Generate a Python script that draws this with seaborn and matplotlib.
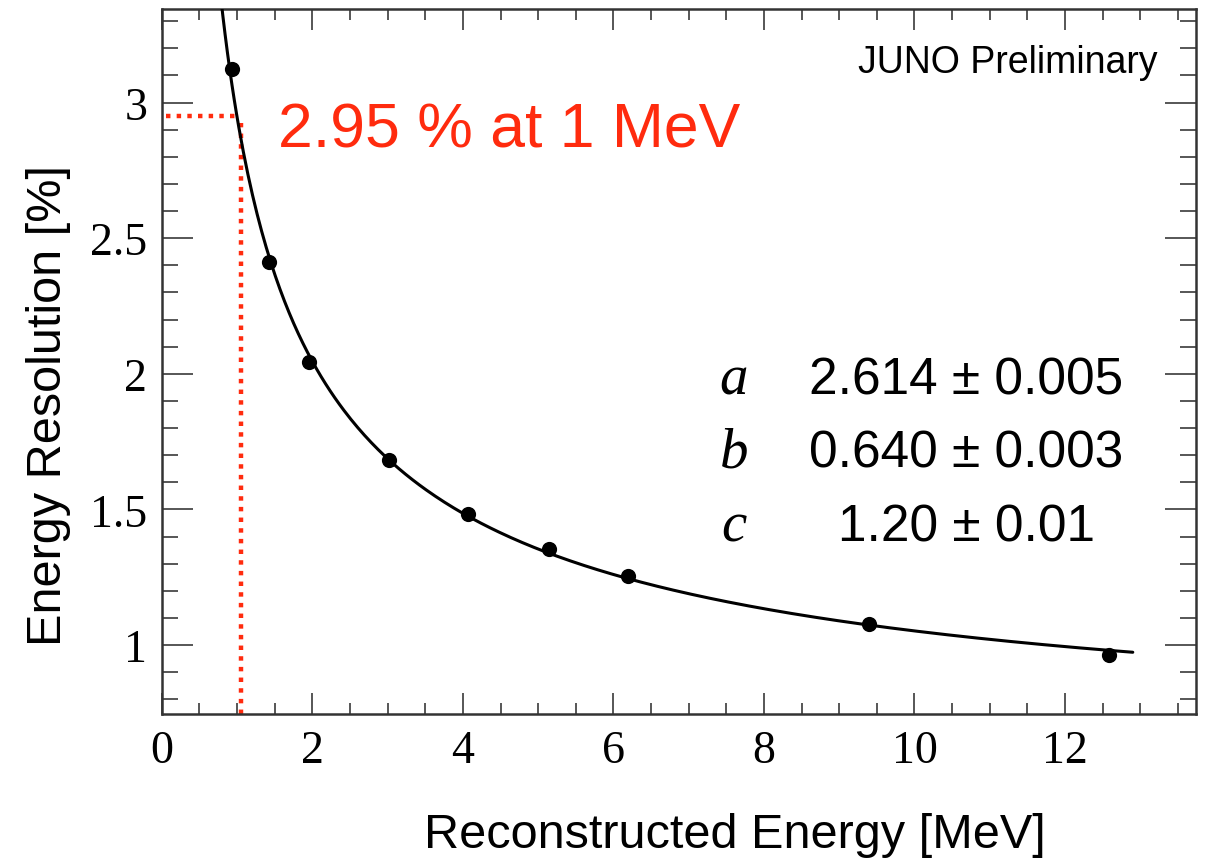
import numpy as np
import pandas as pd
import matplotlib
matplotlib.use("Agg")
import matplotlib.pyplot as plt
from matplotlib.ticker import MultipleLocator
import seaborn as sns

# ---------------- data ----------------
energy = [0.93, 1.43, 1.96, 3.02, 4.07, 5.14, 6.20, 9.39, 12.58]        # MeV
resolution = [3.123, 2.414, 2.045, 1.683, 1.485, 1.356, 1.255, 1.077, 0.963]  # %

fit_a = 2.614
fit_b = 0.640
fit_c = 1.20
fit_range = [0.78, 12.9]

param_names = ["a", "b", "c"]
param_texts = ["2.614 \u00b1 0.005", "0.640 \u00b1 0.003", "1.20 \u00b1 0.01"]

ref_energy_line = 1.05
ref_energy_hline_end = 1.0
ref_resolution = 2.95
annotation = "2.95 % at 1 MeV"
watermark = "JUNO Preliminary"

x_ticks = [0, 2, 4, 6, 8, 10, 12]
x_tick_labels = ["0", "2", "4", "6", "8", "10", "12"]
y_ticks = [1, 1.5, 2, 2.5, 3]
y_tick_labels = ["1", "1.5", "2", "2.5", "3"]
x_limits = [0, 13.74]
y_limits = [0.746, 3.345]

x_label = "Reconstructed Energy [MeV]"
y_label = "Energy Resolution [%]"

RED = "#ff2b0e"

# ---------------- styling ----------------
sns.set_theme(style="ticks")
plt.rcParams["font.family"] = ["Liberation Sans", "DejaVu Sans"]
plt.rcParams["text.color"] = "black"

fig = plt.figure(figsize=(12.12, 8.62), dpi=100)
ax = fig.add_axes([161.8 / 1212, 1 - 715 / 862, (1196 - 161.8) / 1212, (715 - 10) / 862])

# fit curve from displayed parameters
e_grid = np.linspace(fit_range[0], fit_range[1], 400)
fit_df = pd.DataFrame({
    "E": e_grid,
    "R": np.sqrt(fit_a ** 2 / e_grid + fit_b ** 2 + (fit_c / e_grid) ** 2),
})
pts_df = pd.DataFrame({"E": energy, "R": resolution})

sns.lineplot(data=fit_df, x="E", y="R", ax=ax, color="black", linewidth=2.2,
             sort=False, zorder=3)
sns.scatterplot(data=pts_df, x="E", y="R", ax=ax, color="black", s=120,
                edgecolor="black", linewidth=0, zorder=4)

# red dotted guide lines
ax.plot([x_limits[0] + 0.06, ref_energy_hline_end], [ref_resolution, ref_resolution],
        color=RED, linewidth=3.2, linestyle=(0, (1, 1.4)), zorder=2)
ax.plot([ref_energy_line, ref_energy_line], [y_limits[0], ref_resolution - 0.025],
        color=RED, linewidth=3.2, linestyle=(0, (1, 1.4)), zorder=2)

ax.set_xlim(*x_limits)
ax.set_ylim(*y_limits)
ax.set_xlabel("")
ax.set_ylabel("")

ax.set_xticks(x_ticks)
ax.set_xticklabels(x_tick_labels, fontfamily="Liberation Serif", fontsize=33)
ax.set_yticks(y_ticks)
ax.set_yticklabels(y_tick_labels, fontfamily="Liberation Serif", fontsize=33)
ax.xaxis.set_minor_locator(MultipleLocator(0.5))
ax.yaxis.set_minor_locator(MultipleLocator(0.1))

tick_col = "#3a3a3a"
ax.tick_params(axis="x", which="major", direction="in", length=15, width=1.2,
               top=True, bottom=True, color=tick_col, pad=11, labelcolor="black")
ax.tick_params(axis="x", which="minor", direction="in", length=8, width=1.2,
               top=True, bottom=True, color=tick_col)
ax.tick_params(axis="y", which="major", direction="in", length=22, width=1.2,
               left=True, right=True, color=tick_col, pad=10.5, labelcolor="black")
ax.tick_params(axis="y", which="minor", direction="in", length=11.5, width=1.2,
               left=True, right=True, color=tick_col)
for sp in ax.spines.values():
    sp.set_visible(True)
    sp.set_linewidth(1.8)
    sp.set_color("#333333")

# texts
fig.text(1157 / 1212, 1 - 73 / 862, watermark, ha="right", va="baseline",
         fontsize=27, color="black")
fig.text(278 / 1212, 1 - 148 / 862, annotation, ha="left", va="baseline",
         fontsize=45, color=RED)

baselines = [395, 468, 541]
for name, txt, yb in zip(param_names, param_texts, baselines):
    fig.text(734 / 1212, 1 - yb / 862, name, ha="center", va="baseline",
             fontsize=41, fontstyle="italic", fontfamily="Liberation Serif",
             color="black")
    fig.text(966 / 1212, 1 - yb / 862, txt, ha="center", va="baseline",
             fontsize=37, color="black")

fig.text(735 / 1212, 1 - 848 / 862, x_label, ha="center", va="baseline",
         fontsize=35, color="black")
fig.text(49 / 1212, 1 - 405 / 862, y_label, ha="center", va="center",
         rotation=90, fontsize=35, color="black")

fig.savefig("out.png", dpi=100, facecolor="white")
